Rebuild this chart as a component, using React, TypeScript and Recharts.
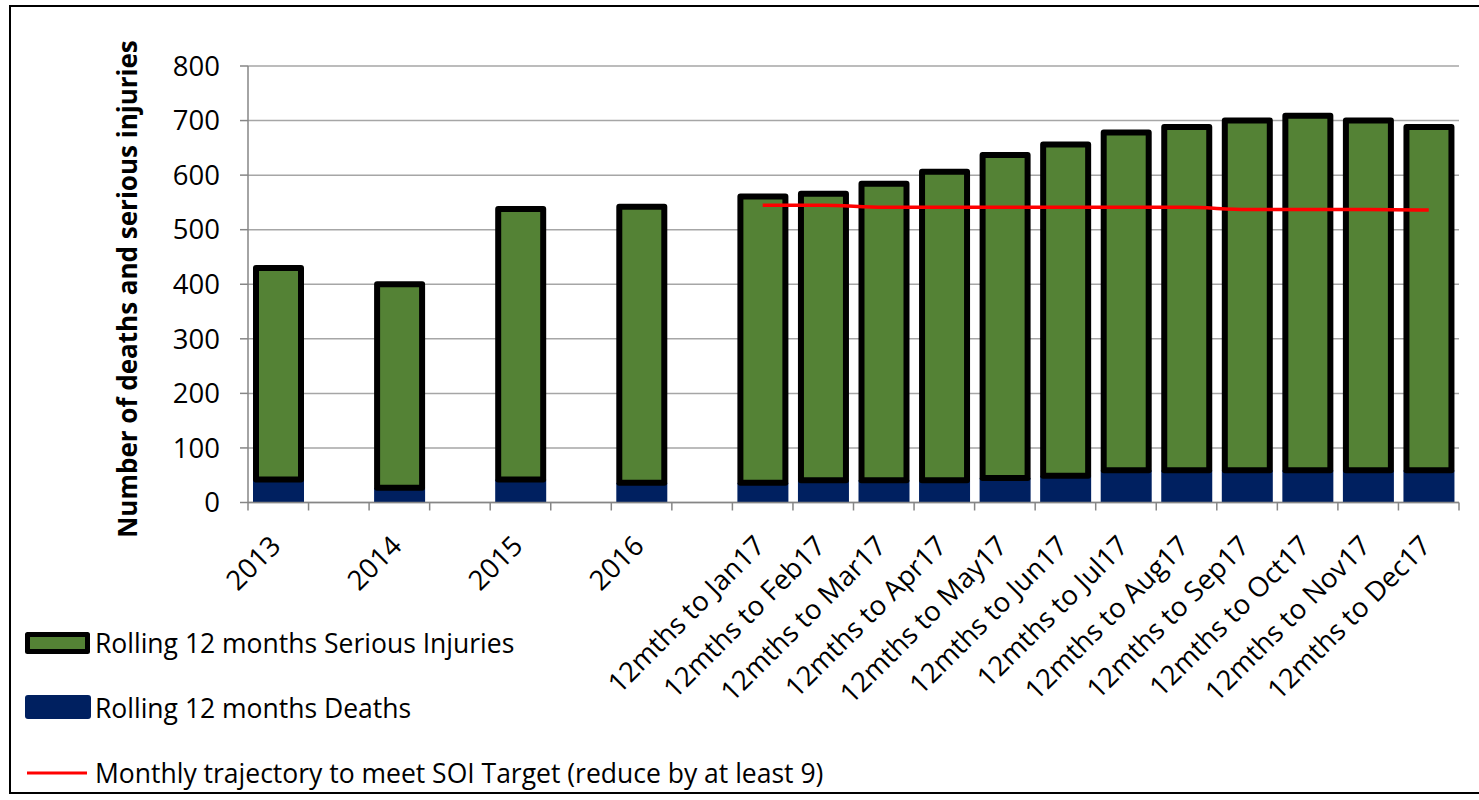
import React from 'react';
import { ComposedChart, Bar, Line, XAxis, YAxis, CartesianGrid, Legend, Label } from 'recharts';

const categories = [
  '2013', '', '2014', '', '2015', '', '2016', '',
  '12mths to Jan17', '12mths to Feb17', '12mths to Mar17', '12mths to Apr17',
  '12mths to May17', '12mths to Jun17', '12mths to Jul17', '12mths to Aug17',
  '12mths to Sep17', '12mths to Oct17', '12mths to Nov17', '12mths to Dec17',
];
const deaths = [42, null, 27, null, 42, null, 36, null, 36, 41, 41, 41, 45, 49, 59, 59, 59, 59, 59, 59];
const seriousInjuries = [388, null, 373, null, 496, null, 506, null, 525, 525, 543, 565, 592, 607, 619, 629, 641, 650, 641, 629];
const soiTarget = [null, null, null, null, null, null, null, null, 545, 545, 541, 541, 541, 541, 541, 541, 537, 537, 537, 536];
const yTicks = [0, 100, 200, 300, 400, 500, 600, 700, 800];

const data = categories.map((c, i) => ({
  category: c,
  deaths: deaths[i],
  serious: seriousInjuries[i],
  target: soiTarget[i],
}));

const GREEN = '#548235';
const NAVY = '#002060';
const RED = '#ff0000';
const AXIS = '#868686';
const GRID = '#a6a6a6';
const FONT = "'Open Sans', sans-serif";

const GreenShape = (props: any) => {
  const { x, y, width, height } = props;
  if (!height || height <= 0) return <g />;
  return (
    <rect
      x={x + 3}
      y={y}
      width={width - 6}
      height={height}
      fill={GREEN}
      stroke="#000"
      strokeWidth={6}
      strokeLinejoin="round"
    />
  );
};

const NavyShape = (props: any) => {
  const { x, y, width, height } = props;
  if (!height || height <= 0) return <g />;
  return <rect x={x} y={y} width={width} height={height} fill={NAVY} />;
};

const XTick = (props: any) => {
  const { x, y, payload, index, visibleTicksCount } = props;
  const half = payload && payload.offset ? payload.offset : 30.27;
  const axisY = y - 45;
  const tx = x + 4;
  return (
    <g>
      <line x1={x - half} x2={x - half} y1={axisY} y2={axisY + 8} stroke={AXIS} strokeWidth={1.5} />
      {index === visibleTicksCount - 1 && (
        <line x1={x + half} x2={x + half} y1={axisY} y2={axisY + 8} stroke={AXIS} strokeWidth={1.5} />
      )}
      {payload.value ? (
        <text
          x={tx}
          y={y}
          textAnchor="end"
          transform={`rotate(-45 ${tx} ${y})`}
          fontSize={27.5}
          fontFamily={FONT}
          fill="#000"
        >
          {payload.value}
        </text>
      ) : null}
    </g>
  );
};

const legendItems = [
  { key: 'serious', label: 'Rolling 12 months Serious Injuries' },
  { key: 'deaths', label: 'Rolling 12 months Deaths' },
  { key: 'target', label: 'Monthly trajectory to meet SOI Target (reduce by at least 9)' },
];

const LegendContent = () => {
  const textStyle: React.CSSProperties = {
    position: 'absolute',
    left: 95,
    height: 40,
    lineHeight: '40px',
    fontSize: 26.5,
    fontFamily: FONT,
    color: '#000',
    whiteSpace: 'nowrap',
  };
  return (
    <div style={{ position: 'relative', width: 900, height: 180 }}>
      <svg style={{ position: 'absolute', left: 22, top: 9 }} width={72} height={29}>
        <rect x={5.5} y={5.5} width={60} height={17} fill={GREEN} stroke="#000" strokeWidth={5} strokeLinejoin="round" />
      </svg>
      <div style={{ ...textStyle, top: 23 - 20 }}>{legendItems[0].label}</div>
      <svg style={{ position: 'absolute', left: 25, top: 75 }} width={66} height={24}>
        <rect x={0} y={0} width={66} height={24} rx={3} fill={NAVY} />
      </svg>
      <div style={{ ...textStyle, top: 88 - 20 }}>{legendItems[1].label}</div>
      <svg style={{ position: 'absolute', left: 27, top: 151 }} width={60} height={4}>
        <line x1={0} x2={60} y1={2} y2={2} stroke={RED} strokeWidth={3} />
      </svg>
      <div style={{ ...textStyle, top: 153 - 20 }}>{legendItems[2].label}</div>
    </div>
  );
};

export default function App() {
  return (
    <div style={{ position: 'absolute', left: 0, top: 0, width: 1479, height: 800, background: '#fff', overflow: 'hidden', fontFamily: FONT }}>
      <div
        style={{
          position: 'absolute',
          left: 9,
          top: 5,
          width: 1490,
          height: 789,
          border: '2.5px solid #000',
          boxSizing: 'border-box',
        }}
      />
      <div style={{ position: 'absolute', left: 0, top: 0 }}>
        <ComposedChart
          width={1479}
          height={800}
          data={data}
          margin={{ top: 66, right: 20, left: 0, bottom: 0 }}
        >
          <CartesianGrid vertical={false} stroke={GRID} strokeWidth={1.5} />
          <XAxis
            dataKey="category"
            interval={0}
            height={117.5}
            tickLine={false}
            tickSize={0}
            tickMargin={45}
            axisLine={{ stroke: AXIS, strokeWidth: 1.5 }}
            tick={<XTick />}
          />
          <YAxis
            domain={[0, 800]}
            ticks={yTicks}
            interval={0}
            width={248}
            tickSize={8}
            tickMargin={20}
            axisLine={{ stroke: AXIS, strokeWidth: 1.5 }}
            tickLine={{ stroke: AXIS, strokeWidth: 1.5 }}
            tick={{ fontSize: 27.5, fill: '#000', fontFamily: FONT }}
          >
            <Label
              content={() => (
                <text
                  x={127}
                  y={289}
                  transform="rotate(-90 127 289)"
                  textAnchor="middle"
                  dominantBaseline="central"
                  fontSize={26}
                  fontWeight="bold"
                  fontFamily={FONT}
                  fill="#000"
                >
                  Number of deaths and serious injuries
                </text>
              )}
            />
          </YAxis>
          <Legend
            layout="horizontal"
            verticalAlign="bottom"
            align="left"
            width={900}
            height={180}
            content={<LegendContent />}
          />
          <Bar dataKey="deaths" stackId="a" barSize={51} shape={<NavyShape />} isAnimationActive={false} />
          <Bar dataKey="serious" stackId="a" barSize={51} shape={<GreenShape />} isAnimationActive={false} />
          <Line
            dataKey="target"
            type="monotone"
            stroke={RED}
            strokeWidth={3.5}
            dot={false}
            activeDot={false}
            connectNulls={false}
            isAnimationActive={false}
          />
        </ComposedChart>
      </div>
    </div>
  );
}
